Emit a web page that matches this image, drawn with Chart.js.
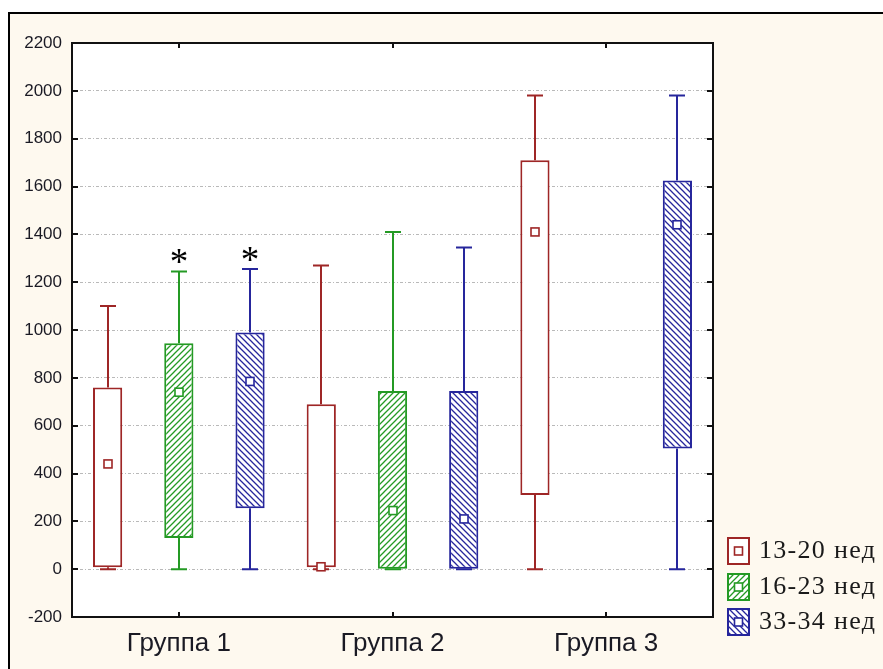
<!DOCTYPE html>
<html>
<head>
<meta charset="utf-8">
<script src="https://cdn.jsdelivr.net/npm/chart.js@4.4.1/dist/chart.umd.min.js"></script>
<style>
  html, body { margin: 0; padding: 0; background: #ffffff; overflow: hidden; }
  #frame { position: absolute; left: 8px; top: 12px; width: 920px; height: 720px;
           border: 2px solid #000; background: #fef9ef; }
  #wrap { position: absolute; left: 0; top: 0; width: 883px; height: 669px; }
</style>
</head>
<body>
<div id="frame"></div>
<div id="wrap"><canvas id="c" width="883" height="669"></canvas></div>
<script>
// Categories and series
const categories = ['Группа 1', 'Группа 2', 'Группа 3'];
const seriesNames = ['13-20 нед', '16-23 нед', '33-34 нед'];
const yTickValues = [-200, 0, 200, 400, 600, 800, 1000, 1200, 1400, 1600, 1800, 2000, 2200];

// 13-20 нед: lower whisker, box bottom, box top, upper whisker, mean
const min1320  = [0, 0, 0];
const low1320  = [8, 8, 310];
const high1320 = [760, 690, 1710];
const max1320  = [1100, 1270, 1980];
const mean1320 = [440, 10, 1410];

// 16-23 нед (no data for Группа 3)
const min1623  = [0, 0, null];
const low1623  = [130, 0, null];
const high1623 = [945, 745, null];
const max1623  = [1245, 1410, null];
const mean1623 = [740, 245, null];

// 33-34 нед
const min3334  = [0, 0, 0];
const low3334  = [255, 0, 505];
const high3334 = [990, 745, 1625];
const max3334  = [1255, 1345, 1980];
const mean3334 = [785, 210, 1440];

// significance marks above the upper whisker
const mark1320 = ['', '', ''];
const mark1623 = ['*', '', ''];
const mark3334 = ['*', '', ''];

const seriesColors = ['#9e2626', '#249a24', '#26269c'];
const seriesHatch = [null, 'up', 'down'];

function hatchPattern(color, dir) {
  const s = 6;
  const t = document.createElement('canvas');
  t.width = s; t.height = s;
  const g = t.getContext('2d');
  g.fillStyle = '#ffffff';
  g.fillRect(0, 0, s, s);
  g.strokeStyle = color;
  g.lineWidth = 1.3;
  g.beginPath();
  if (dir === 'up') {
    g.moveTo(-1, s + 1); g.lineTo(s + 1, -1);
    g.moveTo(-1, 1); g.lineTo(1, -1);
    g.moveTo(s - 1, s + 1); g.lineTo(s + 1, s - 1);
  } else {
    g.moveTo(-1, -1); g.lineTo(s + 1, s + 1);
    g.moveTo(-1, s - 1); g.lineTo(1, s + 1);
    g.moveTo(s - 1, -1); g.lineTo(s + 1, 1);
  }
  g.stroke();
  return document.getElementById('c').getContext('2d').createPattern(t, 'repeat');
}

function fillFor(i) {
  return seriesHatch[i] ? hatchPattern(seriesColors[i], seriesHatch[i]) : '#ffffff';
}

const stats = [
  { min: min1320, low: low1320, high: high1320, max: max1320, mean: mean1320, mark: mark1320 },
  { min: min1623, low: low1623, high: high1623, max: max1623, mean: mean1623, mark: mark1623 },
  { min: min3334, low: low3334, high: high3334, max: max3334, mean: mean3334, mark: mark3334 }
];

const datasets = stats.map((s, i) => ({
  label: seriesNames[i],
  data: categories.map((_, k) => s.low[k] == null ? null : [s.low[k], s.high[k]]),
  backgroundColor: fillFor(i),
  borderColor: seriesColors[i],
  borderWidth: 2,
  borderSkipped: false,
  barPercentage: 0.41,
  categoryPercentage: 1.0
}));

const boxPlotExtras = {
  id: 'boxPlotExtras',
  beforeDraw(chart) {
    const a = chart.chartArea, ctx = chart.ctx;
    ctx.save();
    ctx.fillStyle = '#ffffff';
    ctx.fillRect(a.left, a.top, a.right - a.left, a.bottom - a.top);
    ctx.restore();
  },
  afterDatasetsDraw(chart) {
    const ctx = chart.ctx, y = chart.scales.y, x = chart.scales.x, a = chart.chartArea;
    ctx.save();
    // whiskers, means and marks
    stats.forEach((s, d) => {
      const meta = chart.getDatasetMeta(d);
      const col = seriesColors[d];
      categories.forEach((_, k) => {
        if (s.low[k] == null) return;
        const cx = Math.round(meta.data[k].x);
        ctx.strokeStyle = col;
        ctx.lineWidth = 2;
        const cap = 8;
        const yHigh = y.getPixelForValue(s.high[k]);
        const yMax = y.getPixelForValue(s.max[k]);
        const yLow = y.getPixelForValue(s.low[k]);
        const yMin = y.getPixelForValue(s.min[k]);
        ctx.beginPath();
        ctx.moveTo(cx, yHigh); ctx.lineTo(cx, yMax);
        ctx.moveTo(cx - cap, yMax); ctx.lineTo(cx + cap, yMax);
        ctx.moveTo(cx, yLow); ctx.lineTo(cx, yMin);
        ctx.moveTo(cx - cap, yMin); ctx.lineTo(cx + cap, yMin);
        ctx.stroke();
        // mean marker
        const ym = y.getPixelForValue(s.mean[k]);
        ctx.fillStyle = '#ffffff';
        ctx.fillRect(cx - 4, ym - 4, 8, 8);
        ctx.lineWidth = 1.6;
        ctx.strokeRect(cx - 4, ym - 4, 8, 8);
        // significance mark
        if (s.mark[k]) {
          ctx.fillStyle = '#000000';
          ctx.font = '37px "Liberation Serif", "Times New Roman", serif';
          ctx.textAlign = 'center';
          ctx.textBaseline = 'alphabetic';
          ctx.fillText(s.mark[k], cx, yMax + 3);
        }
      });
    });

    // plot frame
    ctx.strokeStyle = '#111111';
    ctx.lineWidth = 2;
    ctx.strokeRect(a.left, a.top, a.right - a.left, a.bottom - a.top);

    // inward tick marks
    ctx.lineWidth = 2;
    ctx.beginPath();
    yTickValues.forEach(v => {
      const py = Math.round(y.getPixelForValue(v));
      ctx.moveTo(a.left, py); ctx.lineTo(a.left + 6, py);
      ctx.moveTo(a.right, py); ctx.lineTo(a.right - 6, py);
    });
    categories.forEach((_, k) => {
      const px = Math.round(x.getPixelForValue(k));
      ctx.moveTo(px, a.bottom); ctx.lineTo(px, a.bottom - 5);
      ctx.moveTo(px, a.top); ctx.lineTo(px, a.top + 5);
    });
    ctx.stroke();

    // legend
    const lx = 727, bw = 23, bh = 28;
    const tops = [537, 573, 608];
    seriesNames.forEach((name, i) => {
      const ty = tops[i];
      ctx.fillStyle = chart.data.datasets[i].backgroundColor;
      ctx.fillRect(lx, ty, bw, bh);
      ctx.strokeStyle = seriesColors[i];
      ctx.lineWidth = 2;
      ctx.strokeRect(lx + 1, ty + 1, bw - 2, bh - 2);
      const cx = lx + bw / 2, cy = ty + bh / 2;
      ctx.fillStyle = '#ffffff';
      ctx.fillRect(cx - 4, cy - 4, 8, 8);
      ctx.lineWidth = 1.6;
      ctx.strokeRect(cx - 4, cy - 4, 8, 8);
      ctx.fillStyle = '#1a1a1a';
      ctx.font = '26px "Liberation Serif", "Times New Roman", serif';
      ctx.textAlign = 'left';
      ctx.textBaseline = 'alphabetic';
      ctx.letterSpacing = '1.3px';
      ctx.fillText(name, 759, ty + 21);
      ctx.letterSpacing = '0px';
    });
    ctx.restore();
  }
};

new Chart(document.getElementById('c'), {
  type: 'bar',
  data: { labels: categories, datasets },
  options: {
    responsive: false,
    animation: false,
    events: [],
    layout: { padding: { top: 43, right: 170, bottom: 0, left: 0 } },
    plugins: { legend: { display: false }, tooltip: { enabled: false } },
    scales: {
      x: {
        grid: { display: false, drawTicks: false },
        border: { display: false },
        ticks: {
          color: '#1a1a24',
          padding: 11,
          font: { family: '"Liberation Sans", Arial, sans-serif', size: 26 }
        },
        afterFit(scale) { scale.height = 52; }
      },
      y: {
        min: -200,
        max: 2200,
        grid: { color: '#b9b9b9', lineWidth: 1, drawTicks: false },
        border: { display: false, dash: [3, 2, 1, 2] },
        afterBuildTicks(scale) { scale.ticks = yTickValues.map(v => ({ value: v })); },
        ticks: {
          color: '#1a1a24',
          padding: 10,
          font: { family: '"Liberation Sans", Arial, sans-serif', size: 17 },
          callback: (v) => String(v)
        },
        afterFit(scale) { scale.width = 72; }
      }
    }
  },
  plugins: [boxPlotExtras]
});
</script>
</body>
</html>
